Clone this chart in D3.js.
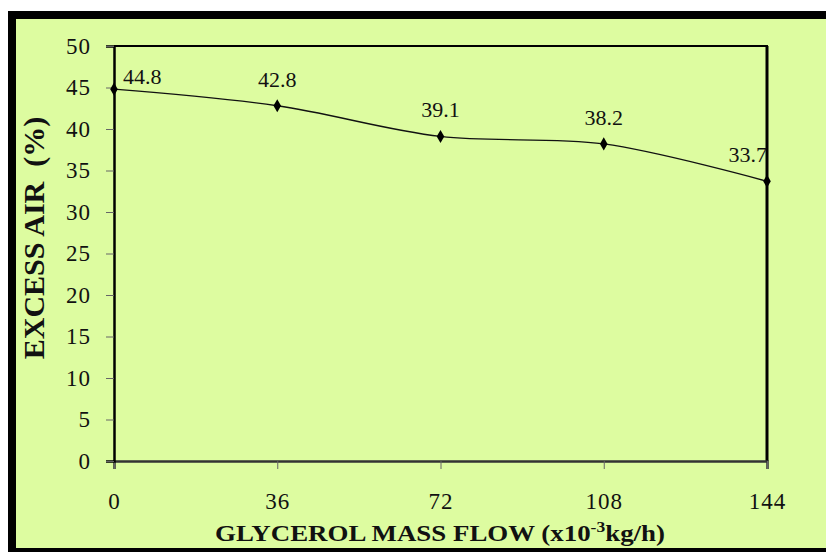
<!DOCTYPE html>
<html lang="en">
<head>
    <meta charset="UTF-8">
    <title>Excess air</title>
    <script src="https://d3js.org/d3.v7.min.js"></script>
    <style>
        body { margin: 0; background: #fff; }
        svg { display: block; }
        .tick text { font-family: "Liberation Serif", serif; font-size: 23px; letter-spacing: 1px; fill: #111; }
    </style>
</head>
<body>
<div id="chart"></div>
<script>
    // data
    const flows = [0, 36, 72, 108, 144]
    const excessAir = [44.8, 42.8, 39.1, 38.2, 33.7]
    const yTicks = [0, 5, 10, 15, 20, 25, 30, 35, 40, 45, 50]

    const W = 826, H = 552
    const MARGIN = { LEFT: 114, TOP: 46, RIGHT: 59, BOTTOM: 91 }
    const WIDTH = W - MARGIN.LEFT - MARGIN.RIGHT
    const HEIGHT = H - MARGIN.TOP - MARGIN.BOTTOM
    const BG = "#ddfca0"

    const svg = d3.select("#chart").append("svg")
        .attr("width", W).attr("height", H)

    // outer frame, thick black on left / top / bottom
    svg.append("rect")
        .attr("x", 12).attr("y", 15)
        .attr("width", 900).attr("height", 537)
        .attr("fill", BG)
        .attr("stroke", "#000").attr("stroke-width", 8)

    const g = svg.append("g")
        .attr("transform", `translate(${MARGIN.LEFT}, ${MARGIN.TOP})`)

    const x = d3.scaleLinear().domain([0, 144]).range([0, WIDTH])
    const y = d3.scaleLinear().domain([0, 50]).range([HEIGHT, 0])

    // top and right border of the plot area
    g.append("path")
        .attr("d", `M0,0H${WIDTH}V${HEIGHT}`)
        .attr("fill", "none").attr("stroke", "#000").attr("stroke-width", 2)
    g.append("line")
        .attr("x1", WIDTH).attr("x2", WIDTH).attr("y1", 0).attr("y2", HEIGHT)
        .attr("stroke", "#000").attr("stroke-width", 3)

    const xAxis = g.append("g")
        .attr("transform", `translate(0, ${HEIGHT})`)
        .call(d3.axisBottom(x).tickValues(flows).tickSize(8).tickPadding(24))
    xAxis.select(".domain").attr("stroke", "#333").attr("stroke-width", 2.5)
    xAxis.selectAll(".tick line").attr("stroke", "#666")

    const yAxis = g.append("g")
        .call(d3.axisLeft(y).tickValues(yTicks).tickSize(8).tickPadding(15))
    yAxis.select(".domain").attr("stroke", "#000").attr("stroke-width", 2.5)
    yAxis.selectAll(".tick line").attr("stroke", "#666")

    const pts = flows.map((f, i) => [f, excessAir[i]])

    g.append("path")
        .datum(pts)
        .attr("fill", "none")
        .attr("stroke", "#111")
        .attr("stroke-width", 1.3)
        .attr("d", d3.line().x(d => x(d[0])).y(d => y(d[1])).curve(d3.curveCatmullRom))

    g.selectAll(".pt").data(pts).enter().append("path")
        .attr("class", "pt")
        .attr("transform", d => `translate(${x(d[0])},${y(d[1])})`)
        .attr("d", d3.symbol(d3.symbolDiamond, 50))
        .attr("fill", "#000")

    // value labels
    const last = pts.length - 1
    g.selectAll(".lbl").data(pts).enter().append("text")
        .attr("class", "lbl")
        .attr("x", (d, i) => x(d[0]) + (i === 0 ? 9 : 0))
        .attr("y", (d, i) => y(d[1]) - (i === 0 ? 5 : 19))
        .attr("text-anchor", (d, i) => i === 0 ? "start" : (i === last ? "end" : "middle"))
        .attr("font-family", "Liberation Serif, serif")
        .attr("font-size", "22px")
        .attr("fill", "#111")
        .text(d => d[1].toFixed(1))

    // axis titles
    const xt = svg.append("text")
        .attr("x", 215).attr("y", 541)
        .attr("textLength", 450)
        .attr("lengthAdjust", "spacingAndGlyphs")
        .attr("font-family", "Liberation Serif, serif")
        .attr("font-weight", "bold")
        .attr("font-size", "23px")
        .attr("fill", "#111")
    xt.append("tspan").text("GLYCEROL MASS FLOW (x10")
    xt.append("tspan").attr("dy", -9).attr("font-size", "15px").text("-3")
    xt.append("tspan").attr("dy", 9).text("kg/h)")

    svg.append("text")
        .attr("transform", "translate(44, 238) rotate(-90)")
        .attr("text-anchor", "middle")
        .attr("font-family", "Liberation Serif, serif")
        .attr("font-weight", "bold")
        .attr("font-size", "30px")
        .attr("fill", "#111")
        .attr("xml:space", "preserve")
        .text("EXCESS AIR  (%)")
</script>
</body>
</html>
